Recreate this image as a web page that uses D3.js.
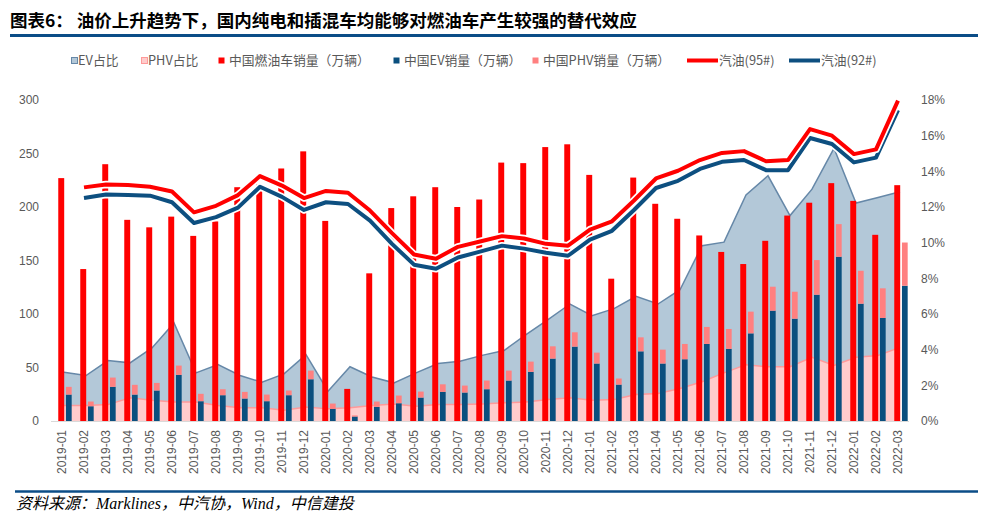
<!DOCTYPE html>
<html><head><meta charset="utf-8">
<script src="https://cdn.jsdelivr.net/npm/d3@7/dist/d3.min.js"></script>
<style>
body{margin:0;background:#fff;}
svg{display:block;}
</style></head>
<body>
<svg id="c" width="990" height="521"></svg>
<script>
const months = ["2019-01","2019-02","2019-03","2019-04","2019-05","2019-06","2019-07","2019-08","2019-09","2019-10","2019-11","2019-12",
"2020-01","2020-02","2020-03","2020-04","2020-05","2020-06","2020-07","2020-08","2020-09","2020-10","2020-11","2020-12",
"2021-01","2021-02","2021-03","2021-04","2021-05","2021-06","2021-07","2021-08","2021-09","2021-10","2021-11","2021-12",
"2022-01","2022-02","2022-03"];
// 中国燃油车销量（万辆）
const fuelSales = [227,142,240,188,181,191,173,186.5,218.5,221,236,252,
187,30,138,199,210,218.5,200,207,241.5,241,256,258.6,
230,133,227.5,203,189,173.4,158,146.7,168.4,192,204,222.3,
205.7,174,220.4];
// 中国EV销量（万辆）
const evSales = [24.7,13.8,31.9,24.7,28.5,43.1,18.5,24.1,21,18.5,24.1,39,
11.4,4.2,13.2,16.6,21.9,27.2,26.6,29.7,37.8,45.9,58.3,69.5,
53.7,34,65.1,53.7,57.7,72,67.4,81.9,103.1,95.6,118,153.5,
109.6,96.3,126.4];
// 中国PHV销量（万辆）
const phvSales = [7.2,4.4,8.7,9.1,7.1,8.7,6.9,5.6,6.2,6.2,4.4,8.1,
4.9,1,5,7.2,5.6,7.1,6.5,8.1,9.3,9.6,11.5,13.4,
10.2,5.7,13.1,13,14.3,15.9,18.6,20.3,22.4,25.2,32.4,30.5,
30.8,27.7,40.4];
// EV占比 (%)
const evShare = [2.73,2.55,3.39,3.26,4.10,5.50,2.70,3.16,2.55,2.17,2.64,3.72,
1.67,3.04,2.47,2.14,2.70,3.22,3.35,3.68,3.95,4.84,5.68,6.56,
5.90,6.30,6.99,6.56,7.36,9.83,10.03,12.68,13.75,11.52,13.00,15.29,
12.22,12.53,12.85];
// PHV占比 (%)
const phvShare = [0.87,0.87,0.92,1.30,1.16,1.07,1.07,0.87,0.74,0.74,0.61,0.79,
0.68,0.74,0.87,0.96,0.83,0.92,0.92,0.96,1.02,1.07,1.20,1.30,
1.16,1.20,1.48,1.54,1.82,2.20,2.70,3.16,3.04,3.04,3.57,3.11,
3.57,3.67,4.13];
// 汽油(95#) 元/升 (from 2019-02)
const gas95 = [null,7.03,7.08,7.07,7.04,6.96,6.61,6.72,6.90,7.22,7.06,6.85,
6.97,6.94,6.64,6.26,5.90,5.83,6.03,6.12,6.21,6.17,6.08,6.05,
6.32,6.46,6.81,7.18,7.31,7.49,7.61,7.64,7.47,7.49,8.01,7.90,
7.59,7.67,8.49];
// 汽油(92#) 元/升
const gas92 = [null,6.85,6.91,6.90,6.89,6.78,6.43,6.53,6.69,7.04,6.87,6.65,
6.78,6.75,6.47,6.08,5.73,5.66,5.85,5.95,6.05,6.00,5.93,5.88,
6.15,6.30,6.65,7.02,7.14,7.34,7.46,7.49,7.32,7.32,7.86,7.76,
7.45,7.53,8.33];
const leftTicks = [0,50,100,150,200,250,300];
const rightTicks = [0,2,4,6,8,10,12,14,16,18];

const svg = d3.select("#c");
const fontSans = "'Liberation Sans', Arial, 'Noto Sans CJK SC', sans-serif";
const fontCJK = "'Noto Sans CJK SC', 'Liberation Sans', sans-serif";

// title
svg.append("text").attr("x",10).attr("y",27).attr("font-family",fontCJK)
  .attr("font-weight","bold").attr("font-size",17.5).attr("fill","#000")
  .text("图表6： 油价上升趋势下，国内纯电和插混车均能够对燃油车产生较强的替代效应");
svg.append("line").attr("x1",10).attr("x2",978).attr("y1",35.5).attr("y2",35.5)
  .attr("stroke","#0b4d87").attr("stroke-width",3);

const x = d3.scaleBand().domain(months).range([51,909]).padding(0);
const bw = x.bandwidth();
const cx = d => x(d) + bw/2;
const yL = d3.scaleLinear().domain([0,300]).range([421,100]);
const yR = d3.scaleLinear().domain([0,18]).range([421,100]);
const yP = d3.scaleLinear().domain([3.1,8.5]).range([421,100]);

// areas
const areaGen = (arr) => d3.area().x((d,i)=>cx(months[i])+2).y0(yR(0)).y1(d=>yR(d))(arr);
const lineGen = (arr) => d3.line().x((d,i)=>cx(months[i])+2).y(d=>yR(d))(arr);
svg.append("path").attr("d",areaGen(evShare)).attr("fill","#b3c8d8");
svg.append("path").attr("d",lineGen(evShare)).attr("fill","none").attr("stroke","#6688a8").attr("stroke-width",1.5);
svg.append("path").attr("d",areaGen(phvShare)).attr("fill","#ffcccc");
svg.append("path").attr("d",lineGen(phvShare)).attr("fill","none").attr("stroke","#ff9a9a").attr("stroke-width",1.5);

// bars
svg.append("g").selectAll("rect").data(months).join("rect")
  .attr("x",d=>x(d)+bw*0.33).attr("width",bw*0.27)
  .attr("y",(d,i)=>yL(fuelSales[i])).attr("height",(d,i)=>yL(0)-yL(fuelSales[i]))
  .attr("fill","#ff0000");
svg.append("g").selectAll("rect").data(months).join("rect")
  .attr("x",d=>x(d)+bw*0.68).attr("width",bw*0.26)
  .attr("y",(d,i)=>yL(evSales[i])).attr("height",(d,i)=>yL(0)-yL(evSales[i]))
  .attr("fill","#0a4f7e");
svg.append("g").selectAll("rect").data(months).join("rect")
  .attr("x",d=>x(d)+bw*0.68).attr("width",bw*0.26)
  .attr("y",(d,i)=>yL(evSales[i]+phvSales[i])).attr("height",(d,i)=>yL(evSales[i])-yL(evSales[i]+phvSales[i]))
  .attr("fill","#ff8080");

// axis baseline
svg.append("line").attr("x1",51).attr("x2",909).attr("y1",421.5).attr("y2",421.5)
  .attr("stroke","#d9d9d9").attr("stroke-width",1);

// price lines
function drawPrice(arr,color){
  const p = d3.line().defined(d=>d!=null).x((d,i)=>cx(months[i])).y(d=>yP(d));
  svg.append("path").attr("d",p(arr)).attr("fill","none").attr("stroke","#fff").attr("stroke-width",7.5).attr("stroke-linejoin","round");
  svg.append("path").attr("d",p(arr)).attr("fill","none").attr("stroke",color).attr("stroke-width",4).attr("stroke-linejoin","round");
}
drawPrice(gas92,"#0d4f80");
drawPrice(gas95,"#ff0000");

// left axis
const gl = svg.append("g").attr("transform","translate(39,0)")
  .call(d3.axisLeft(yL).tickValues(leftTicks).tickSize(0).tickPadding(0));
gl.select(".domain").remove();
gl.selectAll("text").attr("font-family",fontSans).attr("font-size",12).attr("fill","#595959");
// right axis
const gr = svg.append("g").attr("transform","translate(921,0)")
  .call(d3.axisRight(yR).tickValues(rightTicks).tickSize(0).tickPadding(0).tickFormat(d=>d+"%"));
gr.select(".domain").remove();
gr.selectAll("text").attr("font-family",fontSans).attr("font-size",12).attr("fill","#595959");
// x axis labels
const gx = svg.append("g").attr("transform","translate(0,421)")
  .call(d3.axisBottom(x).tickSize(0).tickPadding(0));
gx.select(".domain").remove();
gx.selectAll("text").attr("font-family",fontSans).attr("font-size",12).attr("fill","#595959")
  .attr("text-anchor","end").attr("transform","translate(0,9) rotate(-90)").attr("dx",0).attr("dy","0.35em").attr("y",0).attr("x",0);

// legend
const lg = svg.append("g").attr("font-family",fontCJK).attr("font-size",12.8).attr("fill","#595959");
function sq(xp,fill,stroke){ lg.append("rect").attr("x",xp+0.5).attr("y",57.5).attr("width",6).attr("height",6).attr("fill",fill).attr("stroke",stroke).attr("stroke-width",stroke?1:0); }
function tx(xp,t){ lg.append("text").attr("x",xp).attr("y",65).text(t); }
sq(71,"#b3c8d8","#6688a8"); tx(78,"EV占比");
sq(141,"#ffcccc","#ff9a9a"); tx(148,"PHV占比");
sq(218,"#ff0000",null); tx(229,"中国燃油车销量（万辆）");
sq(393,"#0a4f7e",null); tx(404,"中国EV销量（万辆）");
sq(532,"#ff8080",null); tx(543,"中国PHV销量（万辆）");
lg.append("line").attr("x1",687).attr("x2",718).attr("y1",60.5).attr("y2",60.5).attr("stroke","#ff0000").attr("stroke-width",4);
tx(719,"汽油(95#)");
lg.append("line").attr("x1",789).attr("x2",820).attr("y1",60.5).attr("y2",60.5).attr("stroke","#0d4f80").attr("stroke-width",4);
tx(821,"汽油(92#)");

// footer
svg.append("line").attr("x1",15).attr("x2",978).attr("y1",491.5).attr("y2",491.5)
  .attr("stroke","#0b4d87").attr("stroke-width",2.5);
svg.append("text").attr("x",16).attr("y",508.5).attr("font-family","'Liberation Serif','Noto Sans CJK SC',serif")
  .attr("font-style","italic").attr("font-size",16).attr("fill","#000")
  .text("资料来源：Marklines，中汽协，Wind，中信建投");
</script>
</body></html>
